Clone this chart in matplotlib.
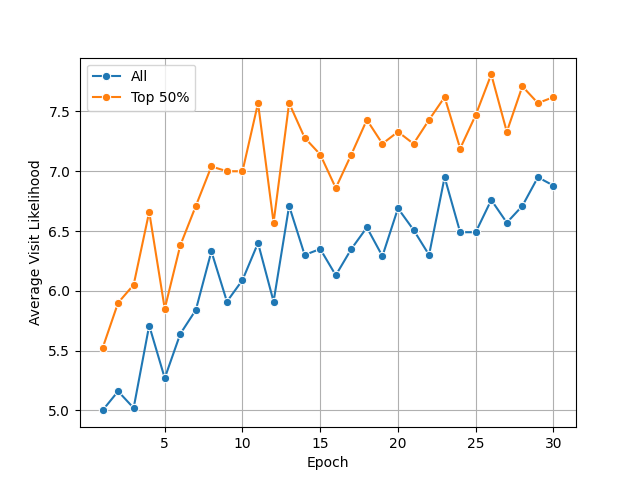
import matplotlib
matplotlib.use("Agg")
import matplotlib.pyplot as plt

epochs = list(range(1, 31))
all_vals = [5.00, 5.16, 5.02, 5.71, 5.27, 5.64, 5.84, 6.33, 5.91, 6.09,
            6.40, 5.91, 6.71, 6.30, 6.35, 6.13, 6.35, 6.53, 6.29, 6.69,
            6.51, 6.30, 6.95, 6.49, 6.49, 6.76, 6.57, 6.71, 6.95, 6.88]
top_vals = [5.52, 5.90, 6.05, 6.66, 5.85, 6.38, 6.71, 7.04, 7.00, 7.00,
            7.57, 6.57, 7.57, 7.28, 7.14, 6.86, 7.14, 7.43, 7.23, 7.33,
            7.23, 7.43, 7.62, 7.19, 7.47, 7.81, 7.33, 7.71, 7.57, 7.62]
xticks = [5, 10, 15, 20, 25, 30]

fig, ax = plt.subplots(figsize=(6.4, 4.8), dpi=100)
ax.plot(epochs, all_vals, marker='o', color='#1f77b4', label='All',
        markeredgecolor='white', markeredgewidth=0.75, markersize=6)
ax.plot(epochs, top_vals, marker='o', color='#ff7f0e', label='Top 50%',
        markeredgecolor='white', markeredgewidth=0.75, markersize=6)
ax.set_xticks(xticks)
ax.set_xlabel('Epoch')
ax.set_ylabel('Average Visit Likelihood')
ax.grid(True)
ax.legend(loc='upper left')
fig.savefig('out.png')
